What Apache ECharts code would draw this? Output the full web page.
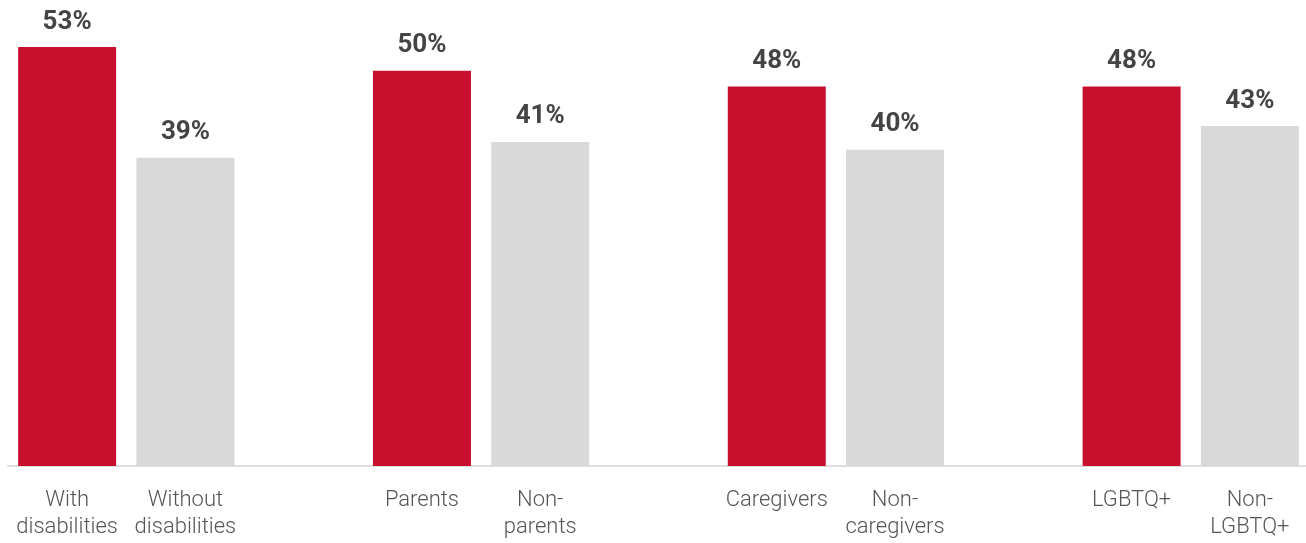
<!DOCTYPE html>
<html>
<head>
<meta charset="utf-8">
<script src="https://cdn.jsdelivr.net/npm/echarts@6/dist/echarts.min.js"></script>
<style>html,body{margin:0;padding:0;background:#fff;overflow:hidden;}#c{width:1309px;height:543px;}</style>
</head>
<body>
<div id="c"></div>
<script>
var categories = ['With\ndisabilities', 'Without\ndisabilities', '', 'Parents', 'Non-\nparents', '', 'Caregivers', 'Non-\ncaregivers', '', 'LGBTQ+', 'Non-\nLGBTQ+'];
var values = [53, 39, null, 50, 41, null, 48, 40, null, 48, 43];
var highlight = [true, false, null, true, false, null, true, false, null, true, false];

var RED = '#C8102E', GRAY = '#D9D9D9';
var data = values.map(function (v, i) {
  if (v === null) return '-';
  return { value: v, itemStyle: { color: highlight[i] ? RED : GRAY } };
});

var chart = echarts.init(document.getElementById('c'));
chart.setOption({
  animation: false,
  grid: { left: 8, right: 0, top: 7.5, bottom: 77, containLabel: false },
  xAxis: {
    type: 'category',
    data: categories,
    axisTick: { show: false },
    axisLine: { lineStyle: { color: '#DDDDDD', width: 2 } },
    axisLabel: {
      interval: 0,
      margin: 21,
      fontFamily: 'Roboto',
      fontWeight: 300,
      fontSize: 22,
      lineHeight: 27,
      color: '#555555'
    }
  },
  yAxis: {
    type: 'value',
    min: 0,
    max: 58,
    show: false,
    splitLine: { show: false }
  },
  series: [{
    type: 'bar',
    data: data,
    barWidth: 98,
    label: {
      show: true,
      position: 'top',
      distance: 12,
      formatter: '{c}%',
      fontFamily: 'Roboto',
      fontWeight: 'bold',
      fontSize: 26,
      color: '#444444'
    }
  }]
});
</script>
</body>
</html>
